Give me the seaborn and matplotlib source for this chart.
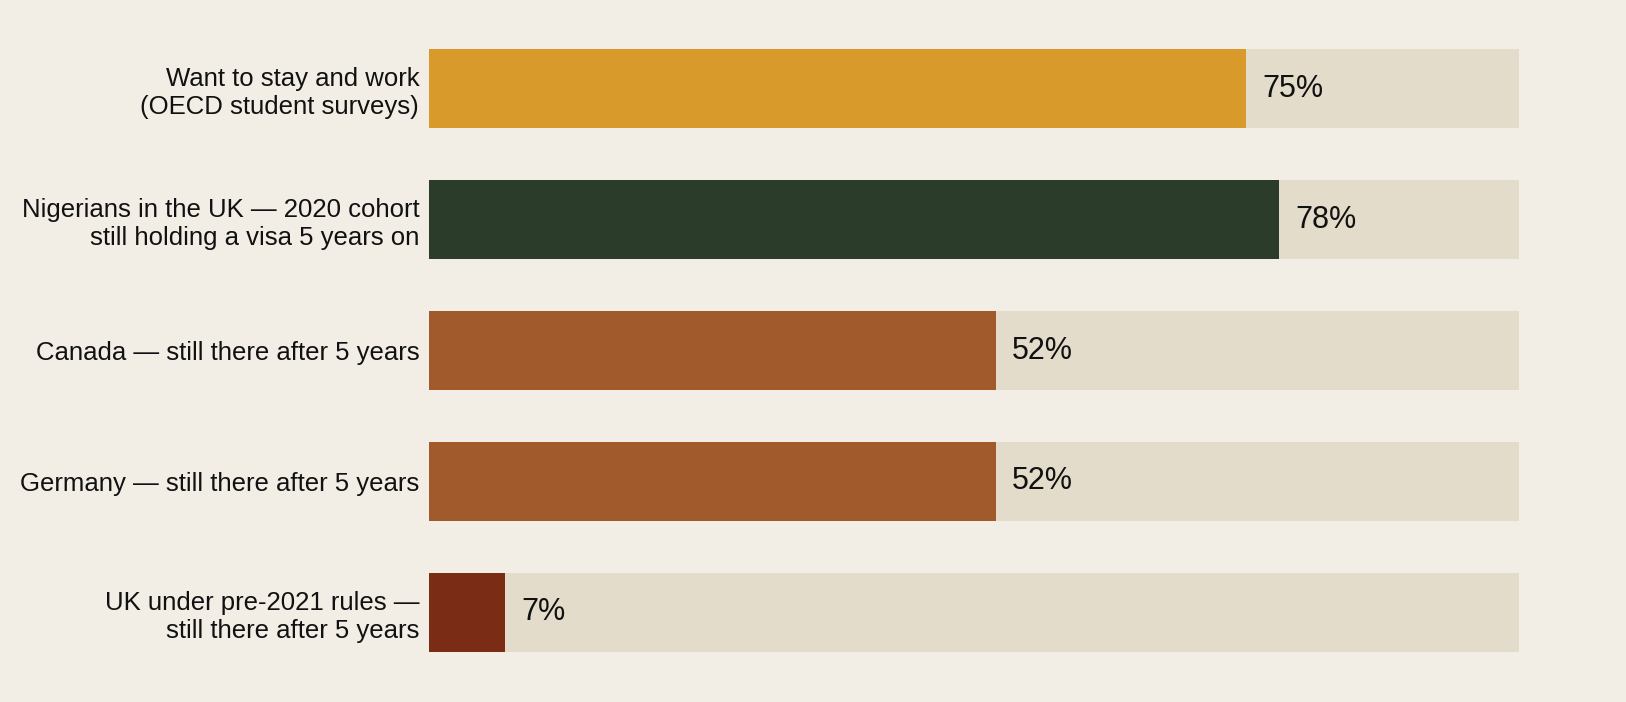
import matplotlib
matplotlib.use("Agg")
import matplotlib.pyplot as plt
import seaborn as sns

# data
labels = [
    "Want to stay and work\n(OECD student surveys)",
    "Nigerians in the UK — 2020 cohort\nstill holding a visa 5 years on",
    "Canada — still there after 5 years",
    "Germany — still there after 5 years",
    "UK under pre-2021 rules —\nstill there after 5 years",
]
values = [75, 78, 52, 52, 7]
track = [100, 100, 100, 100, 100]
bar_colors = ["#D99A2C", "#2B3D2A", "#A05A2C", "#A05A2C", "#7A2D14"]

bg = "#F2EDE5"
track_color = "#E4DCCB"

sns.set_theme(style="white")
plt.rcParams["font.family"] = ["Liberation Sans", "DejaVu Sans"]

fig = plt.figure(figsize=(16.26, 7.02), dpi=100, facecolor=bg)
ax = fig.add_axes([0.2638, 0.0343, 0.6704, 0.9327])
ax.set_facecolor(bg)

# grey track behind each bar
sns.barplot(x=track, y=labels, color=track_color, width=0.6, saturation=1,
            linewidth=0, ax=ax)
# coloured value bars
sns.barplot(x=values, y=labels, hue=labels, palette=bar_colors, width=0.6,
            saturation=1, linewidth=0, legend=False, ax=ax)

for i, v in enumerate(values):
    ax.annotate(f"{v}%", xy=(v, i), xytext=(11.5, 0), textcoords="offset points",
                ha="left", va="center", fontsize=22, color="#111111")

ax.set_xlim(0, 100)
ax.set_ylim(4.5, -0.5)
ax.set_xlabel("")
ax.set_ylabel("")
ax.set_xticks([])
ax.tick_params(axis="y", length=0, pad=7, labelsize=18.5, labelcolor="#111111")
sns.despine(ax=ax, left=True, bottom=True)

fig.savefig("out.png", dpi=100, facecolor=bg)
